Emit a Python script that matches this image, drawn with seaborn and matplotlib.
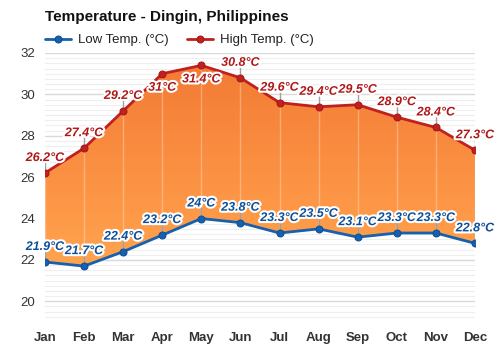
import numpy as np
import pandas as pd
import matplotlib
matplotlib.use("Agg")
import matplotlib.pyplot as plt
import matplotlib.patheffects as pe
from matplotlib.colors import LinearSegmentedColormap
import seaborn as sns

months = ["Jan", "Feb", "Mar", "Apr", "May", "Jun", "Jul", "Aug", "Sep", "Oct", "Nov", "Dec"]
low_temp = [21.9, 21.7, 22.4, 23.2, 24.0, 23.8, 23.3, 23.5, 23.1, 23.3, 23.3, 22.8]
high_temp = [26.2, 27.4, 29.2, 31.0, 31.4, 30.8, 29.6, 29.4, 29.5, 28.9, 28.4, 27.3]
y_ticks = [20, 22, 24, 26, 28, 30, 32]

# labels placed under the point instead of above it
high_below = {"Apr", "May"}

sns.set_theme(style="white")
plt.rcParams["font.family"] = ["Liberation Sans", "DejaVu Sans"]

df = pd.DataFrame({"month": months, "x": np.arange(len(months)),
                   "low": low_temp, "high": high_temp})

fig = plt.figure(figsize=(5, 3.5), dpi=100)
ax = fig.add_axes([0.09, 0.08, 0.86, 0.7686])
ax.set_xlim(0, 11)
ax.set_ylim(19, 32)

# grid: quarter-degree minor lines, major every 2 degrees
for v in np.arange(19, 32.01, 0.25):
    major = abs(v - round(v)) < 1e-9 and int(round(v)) % 2 == 0
    ax.axhline(v, color="#d9d9d9" if major else "#eeeeee", lw=1.0 if major else 0.8, zorder=0)

# gradient fill between low and high
poly = ax.fill_between(df["x"], df["low"], df["high"], color="none", lw=0, zorder=1)
cmap = LinearSegmentedColormap.from_list("warm", ["#ffa44e", "#fd9646", "#f8883d", "#f27a34"])
grad = np.linspace(0, 1, 256).reshape(-1, 1)
img = ax.imshow(grad, extent=[0, 11, 21.5, 31.6], origin="lower", aspect="auto",
                cmap=cmap, zorder=1, interpolation="bicubic")
img.set_clip_path(poly.get_paths()[0], transform=ax.transData)

# faint month guides inside the band
for xi, lo, hi in zip(df["x"], df["low"], df["high"]):
    ax.plot([xi, xi], [lo, hi], color="white", alpha=0.3, lw=1, zorder=2)

sns.lineplot(data=df, x="x", y="low", ax=ax, color="#1660ad", lw=2, marker="o",
             markersize=5, markeredgecolor="#0c4f96", label="Low Temp. (°C)", zorder=4)
sns.lineplot(data=df, x="x", y="high", ax=ax, color="#c0201e", lw=2, marker="o",
             markersize=5, markeredgecolor="#a51818", label="High Temp. (°C)", zorder=4)

stroke = [pe.withStroke(linewidth=3, foreground="white")]
deg_per_px = 13.0 / (0.7686 * 350)
label_kw = dict(ha="center", fontsize=9, fontweight="bold", style="italic",
                path_effects=stroke, zorder=6)

for m, xi, v in zip(months, df["x"], df["high"]):
    lab = f"{v:g}°C"
    if m in high_below:
        ax.text(xi, v - 8 * deg_per_px, lab, va="top", color="#b01818", **label_kw)
    else:
        ax.plot([xi, xi], [v, v + 11 * deg_per_px], color="#a0a0a0", lw=1, zorder=3)
        ax.text(xi, v + 9 * deg_per_px, lab, va="bottom", color="#b01818", **label_kw)

for m, xi, v in zip(months, df["x"], df["low"]):
    lab = f"{v:g}°C"
    ax.plot([xi, xi], [v, v + 11 * deg_per_px], color="#a0a0a0", lw=1, zorder=3)
    ax.text(xi, v + 9 * deg_per_px, lab, va="bottom", color="#0d4f9a", **label_kw)

ax.set_xticks(df["x"])
ax.set_xticklabels(months, fontsize=9.5, fontweight="bold", color="#333333")
ax.set_yticks(y_ticks)
ax.set_yticklabels([str(t) for t in y_ticks], fontsize=9.5, color="#333333")
ax.tick_params(axis="both", length=0, pad=7)
ax.set_xlabel("")
ax.set_ylabel("")
for s in ax.spines.values():
    s.set_visible(False)

fig.text(0.09, 0.94, "Temperature - Dingin, Philippines", fontsize=11, fontweight="bold",
         color="#111111", ha="left", va="baseline")

leg = ax.legend(loc="lower left", bbox_to_anchor=(0.09, 0.868), bbox_transform=fig.transFigure,
                ncol=2, frameon=False, fontsize=9.5, handlelength=2.0, handletextpad=0.5,
                columnspacing=1.4, borderaxespad=0, borderpad=0)
for t in leg.get_texts():
    t.set_color("#222222")

fig.savefig("out.png", dpi=100)
